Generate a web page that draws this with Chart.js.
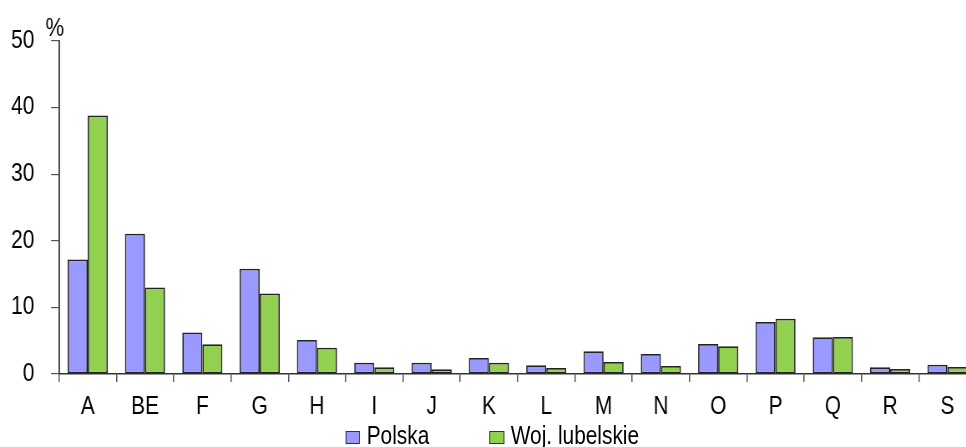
<!DOCTYPE html>
<html>
<head>
<meta charset="utf-8">
<script src="https://cdn.jsdelivr.net/npm/chart.js@4.4.1/dist/chart.umd.min.js"></script>
<style>
html, body { margin: 0; padding: 0; background: #fff; overflow: hidden; }
#outer { position: relative; width: 966px; height: 447px; overflow: hidden; }
/* the reference uses a condensed Arial-like face; squeeze the whole drawing horizontally */
#wrap { position: absolute; left: 0; top: 0; width: 1180px; height: 447px; transform: scaleX(0.835); transform-origin: 0 0; }
#chart { position: absolute; left: 0; top: 0; }
#legend {
  position: absolute; left: 0; top: 423px; width: 1179px;
  text-align: center; white-space: nowrap;
  font: 25px "Liberation Sans", Arial, sans-serif;
  line-height: 25px; color: #000;
}
#legend .item { display: inline-block; }
#legend .item + .item { margin-left: 72px; }
#legend .box {
  display: inline-block; width: 15.5px; height: 11px;
  border: 1px solid #333; margin-right: 8px; vertical-align: baseline;
}
</style>
</head>
<body>
<div id="outer">
<div id="wrap">
<canvas id="chart" width="1174" height="447"></canvas>
<div id="legend"></div>
</div>
</div>
<script>
/* ==========================================
DATA
========================================== */

const categories = ["A", "BE", "F", "G", "H", "I", "J", "K", "L", "M", "N", "O", "P", "Q", "R", "S"];

const polska = [17.2, 21.05, 6.25, 15.8, 5.1, 1.7, 1.7, 2.4, 1.3, 3.4, 3.0, 4.5, 7.8, 5.5, 1.0, 1.4];

const lubelskie = [38.8, 13.0, 4.45, 12.07, 3.95, 1.0, 0.7, 1.7, 0.9, 1.8, 1.2, 4.15, 8.3, 5.55, 0.75, 1.05];

const yTicks = [0, 10, 20, 30, 40, 50];

const seriesNames = ["Polska", "Woj. lubelskie"];
const seriesColors = ["#9999FF", "#92D050"];

const FONT = "'Liberation Sans', Arial, sans-serif";


/* ==========================================
UNIT LABEL ("%") ABOVE THE Y AXIS
========================================== */

const unitLabel = {
id: "unitLabel",
afterDraw(chart){
const ctx = chart.ctx;
const area = chart.chartArea;
ctx.save();
ctx.font = "25px " + FONT;
ctx.fillStyle = "#000";
ctx.textAlign = "center";
ctx.textBaseline = "alphabetic";
ctx.fillText("%", area.left - 5, area.top - 5);
ctx.restore();
}
};


/* ==========================================
CHART
========================================== */

const chart = new Chart(
document.getElementById("chart"),
{
type: "bar",

data: {
labels: categories,
datasets: [
{
label: seriesNames[0],
data: polska,
backgroundColor: seriesColors[0],
borderColor: "#222",
borderWidth: 1.7,
borderSkipped: false,
categoryPercentage: 0.7,
barPercentage: 1.0
},
{
label: seriesNames[1],
data: lubelskie,
backgroundColor: seriesColors[1],
borderColor: "#222",
borderWidth: 1.7,
borderSkipped: false,
categoryPercentage: 0.7,
barPercentage: 1.0
}
]
},

options: {
responsive: false,
animation: false,
layout: {
padding: { left: 0, right: 5, top: 41, bottom: 0 }
},
plugins: {
legend: { display: false },
tooltip: { enabled: false }
},
scales: {
x: {
afterFit(scale){ scale.height = 73; },
grid: {
display: true,
drawOnChartArea: false,
drawTicks: true,
tickLength: 8,
offset: true,
color: "#555",
lineWidth: 1.5
},
border: { display: true, color: "#333", width: 1.5 },
ticks: {
color: "#000",
padding: 10,
font: { size: 25, family: FONT }
}
},
y: {
min: 0,
max: 50,
afterFit(scale){ scale.width = 70.7; },
afterBuildTicks(scale){
scale.ticks = yTicks.map(v => ({ value: v }));
},
grid: {
display: true,
drawOnChartArea: false,
drawTicks: true,
tickLength: 9.6,
color: "#555",
lineWidth: 1.2
},
border: { display: true, color: "#333", width: 1.8 },
ticks: {
color: "#000",
padding: 20,
font: { size: 25, family: FONT }
}
}
}
},

plugins: [unitLabel]
}
);


/* ==========================================
LEGEND
========================================== */

const legend = document.getElementById("legend");

chart.data.datasets.forEach(ds => {
const item = document.createElement("span");
item.className = "item";
const box = document.createElement("span");
box.className = "box";
box.style.background = ds.backgroundColor;
item.appendChild(box);
item.appendChild(document.createTextNode(ds.label));
legend.appendChild(item);
});
</script>
</body>
</html>
